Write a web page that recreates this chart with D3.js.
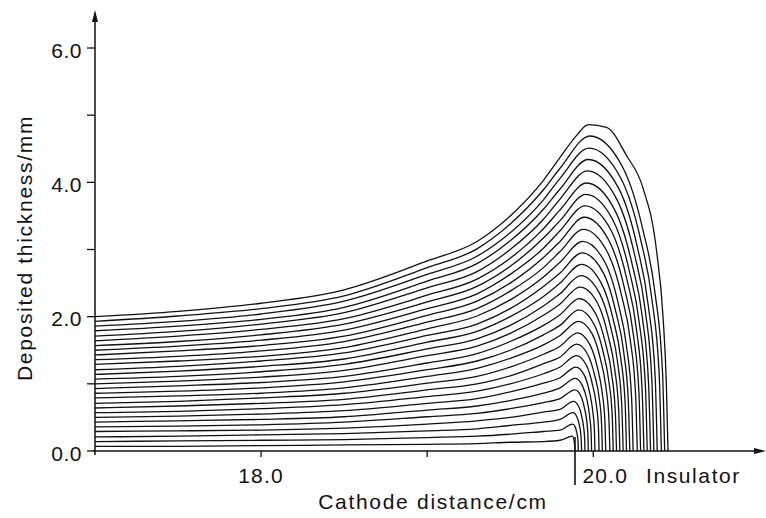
<!DOCTYPE html>
<html>
<head>
<meta charset="utf-8">
<script src="https://cdn.jsdelivr.net/npm/d3@7"></script>
<style>
  body { margin: 0; background: #fff; }
  text { font-family: "Liberation Sans", Arial, sans-serif; fill: #111; }
</style>
</head>
<body>
<div id="chart"></div>
<script>
// thickness profiles (mm) along the cathode, sampled at xGrid (cm)
const xGrid = [17.0, 17.5, 18.0, 18.5, 19.0, 19.3, 19.5, 19.7, 19.8];
const cathodeProfiles = [
  [0.07, 0.07, 0.08, 0.09, 0.10, 0.11, 0.13, 0.14, 0.16],
  [0.14, 0.15, 0.16, 0.17, 0.20, 0.22, 0.25, 0.29, 0.31],
  [0.21, 0.22, 0.24, 0.26, 0.30, 0.33, 0.38, 0.43, 0.47],
  [0.29, 0.30, 0.31, 0.34, 0.40, 0.45, 0.50, 0.58, 0.62],
  [0.36, 0.37, 0.39, 0.43, 0.51, 0.56, 0.63, 0.72, 0.78],
  [0.43, 0.45, 0.47, 0.51, 0.61, 0.67, 0.75, 0.86, 0.94],
  [0.50, 0.52, 0.55, 0.60, 0.71, 0.78, 0.88, 1.01, 1.09],
  [0.57, 0.59, 0.63, 0.69, 0.81, 0.89, 1.00, 1.15, 1.25],
  [0.64, 0.67, 0.71, 0.77, 0.91, 1.00, 1.12, 1.30, 1.40],
  [0.71, 0.74, 0.79, 0.86, 1.01, 1.11, 1.25, 1.44, 1.56],
  [0.79, 0.82, 0.86, 0.94, 1.11, 1.23, 1.38, 1.58, 1.72],
  [0.86, 0.89, 0.94, 1.03, 1.21, 1.34, 1.50, 1.73, 1.87],
  [0.93, 0.97, 1.02, 1.11, 1.31, 1.45, 1.63, 1.87, 2.03],
  [1.00, 1.04, 1.10, 1.20, 1.42, 1.56, 1.75, 2.02, 2.19],
  [1.07, 1.11, 1.18, 1.29, 1.52, 1.67, 1.87, 2.16, 2.34],
  [1.14, 1.19, 1.26, 1.37, 1.62, 1.78, 2.00, 2.30, 2.50],
  [1.21, 1.26, 1.34, 1.46, 1.72, 1.89, 2.12, 2.45, 2.65],
  [1.29, 1.34, 1.41, 1.54, 1.82, 2.01, 2.25, 2.59, 2.81],
  [1.36, 1.41, 1.49, 1.63, 1.92, 2.12, 2.38, 2.73, 2.97],
  [1.43, 1.49, 1.57, 1.71, 2.02, 2.23, 2.50, 2.88, 3.12],
  [1.50, 1.56, 1.65, 1.80, 2.12, 2.34, 2.63, 3.02, 3.28],
  [1.57, 1.63, 1.73, 1.89, 2.22, 2.45, 2.75, 3.17, 3.43],
  [1.64, 1.71, 1.81, 1.97, 2.32, 2.56, 2.87, 3.31, 3.59],
  [1.71, 1.78, 1.89, 2.06, 2.43, 2.67, 3.00, 3.45, 3.75],
  [1.79, 1.86, 1.96, 2.14, 2.53, 2.79, 3.13, 3.60, 3.90],
  [1.86, 1.93, 2.04, 2.23, 2.63, 2.90, 3.25, 3.74, 4.06],
  [1.93, 2.01, 2.12, 2.31, 2.73, 3.01, 3.38, 3.89, 4.21],
  [2.00, 2.08, 2.20, 2.40, 2.83, 3.12, 3.50, 4.03, 4.37]
];
// crest at the cathode edge and overgrowth onto the insulator, [cm, mm]
const edgeProfiles = [
  [[19.875, 0.22], [19.886, 0.13], [19.89, 0]],
  [[19.876, 0.40], [19.891, 0.36], [19.90, 0.28], [19.906, 0.20], [19.909, 0.10], [19.91, 0]],
  [[19.878, 0.57], [19.901, 0.51], [19.915, 0.40], [19.923, 0.29], [19.928, 0.14], [19.93, 0]],
  [[19.88, 0.74], [19.911, 0.67], [19.93, 0.52], [19.941, 0.37], [19.948, 0.19], [19.95, 0]],
  [[19.89, 0.91], [19.925, 0.82], [19.947, 0.64], [19.96, 0.46], [19.968, 0.23], [19.97, 0]],
  [[19.892, 1.08], [19.935, 0.97], [19.962, 0.76], [19.977, 0.54], [19.987, 0.27], [19.99, 0]],
  [[19.895, 1.25], [19.946, 1.13], [19.977, 0.88], [19.995, 0.63], [20.007, 0.31], [20.01, 0]],
  [[19.898, 1.42], [19.958, 1.28], [19.995, 0.99], [20.017, 0.71], [20.031, 0.36], [20.035, 0]],
  [[19.90, 1.59], [19.968, 1.43], [20.01, 1.11], [20.035, 0.80], [20.05, 0.40], [20.055, 0]],
  [[19.905, 1.76], [19.98, 1.58], [20.026, 1.23], [20.053, 0.88], [20.07, 0.44], [20.075, 0]],
  [[19.91, 1.93], [19.994, 1.74], [20.045, 1.35], [20.075, 0.97], [20.094, 0.48], [20.10, 0]],
  [[19.913, 2.10], [20.004, 1.89], [20.06, 1.47], [20.093, 1.05], [20.114, 0.53], [20.12, 0]],
  [[19.916, 2.27], [20.015, 2.04], [20.075, 1.59], [20.111, 1.14], [20.133, 0.57], [20.14, 0]],
  [[19.92, 2.44], [20.026, 2.20], [20.09, 1.71], [20.129, 1.22], [20.153, 0.61], [20.16, 0]],
  [[19.924, 2.61], [20.037, 2.35], [20.106, 1.83], [20.147, 1.31], [20.172, 0.65], [20.18, 0]],
  [[19.928, 2.78], [20.048, 2.50], [20.121, 1.95], [20.165, 1.39], [20.192, 0.70], [20.20, 0]],
  [[19.932, 2.95], [20.059, 2.66], [20.136, 2.07], [20.183, 1.48], [20.211, 0.74], [20.22, 0]],
  [[19.936, 3.12], [20.07, 2.81], [20.152, 2.18], [20.20, 1.56], [20.231, 0.78], [20.24, 0]],
  [[19.94, 3.30], [20.083, 2.97], [20.171, 2.31], [20.223, 1.65], [20.255, 0.83], [20.265, 0]],
  [[19.945, 3.48], [20.095, 3.13], [20.186, 2.44], [20.241, 1.74], [20.275, 0.87], [20.285, 0]],
  [[19.95, 3.65], [20.106, 3.29], [20.202, 2.56], [20.259, 1.83], [20.294, 0.91], [20.305, 0]],
  [[19.955, 3.82], [20.118, 3.44], [20.218, 2.67], [20.277, 1.91], [20.314, 0.96], [20.325, 0]],
  [[19.96, 3.99], [20.129, 3.59], [20.233, 2.79], [20.295, 2.00], [20.333, 1.00], [20.345, 0]],
  [[19.965, 4.17], [20.141, 3.75], [20.249, 2.92], [20.313, 2.09], [20.353, 1.04], [20.365, 0]],
  [[19.97, 4.34], [20.153, 3.91], [20.265, 3.04], [20.331, 2.17], [20.373, 1.09], [20.385, 0]],
  [[19.975, 4.51], [20.166, 4.06], [20.284, 3.16], [20.353, 2.26], [20.397, 1.13], [20.41, 0]],
  [[19.98, 4.69], [20.178, 4.22], [20.30, 3.28], [20.372, 2.35], [20.417, 1.17], [20.43, 0]],
  [[19.9, 4.70], [19.97, 4.86], [20.08, 4.82], [20.2, 4.40], [20.3, 3.91], [20.38, 3.0], [20.42, 2.0], [20.44, 1.0], [20.45, 0]]
];
const yMajorTicks = [0, 2, 4, 6];
const yMinorTicks = [1, 3, 5];
const xMajorTicks = [18, 20];
const xMinorTicks = [19];
const cathodeEdge = 19.89;

const width = 766, height = 518;

const svg = d3.select("#chart").append("svg")
  .attr("width", width)
  .attr("height", height);

const x = d3.scaleLinear().domain([17, 21.04]).range([95, 766]);
const y = d3.scaleLinear().domain([0, 6]).range([451, 48]);

// build each curve: cathode samples followed by the edge crest
const curves = cathodeProfiles.map((vals, i) =>
  xGrid.map((gx, j) => [gx, vals[j]]).concat(edgeProfiles[i]));

const line = d3.line()
  .x(d => x(d[0]))
  .y(d => y(d[1]))
  .curve(d3.curveMonotoneX);

svg.append("g")
  .selectAll("path")
  .data(curves)
  .enter().append("path")
  .attr("d", line)
  .attr("fill", "none")
  .attr("stroke", "#111")
  .attr("stroke-width", 1.3);

// axes
const axisColor = "#111";
const x0 = x(17), y0 = y(0);

svg.append("line")
  .attr("x1", x0).attr("y1", y0 + 4)
  .attr("x2", x0).attr("y2", 14)
  .attr("stroke", axisColor).attr("stroke-width", 1.5);
svg.append("path")
  .attr("d", `M${x0 - 3},${22} L${x0},${10} L${x0 + 3},${22} Z`)
  .attr("fill", axisColor);

svg.append("line")
  .attr("x1", x0 - 2).attr("y1", y0)
  .attr("x2", 762).attr("y2", y0)
  .attr("stroke", axisColor).attr("stroke-width", 1.5);
svg.append("path")
  .attr("d", `M${754},${y0 - 3} L${766},${y0} L${754},${y0 + 3} Z`)
  .attr("fill", axisColor);

// y ticks
svg.selectAll(".ytick")
  .data(yMajorTicks.concat(yMinorTicks))
  .enter().append("line")
  .attr("x1", x0 - 8).attr("x2", x0)
  .attr("y1", d => y(d)).attr("y2", d => y(d))
  .attr("stroke", axisColor).attr("stroke-width", 1.3);

svg.selectAll(".ylabel")
  .data(yMajorTicks)
  .enter().append("text")
  .attr("x", x0 - 13)
  .attr("y", d => y(d) + 2)
  .attr("dy", "0.36em")
  .attr("text-anchor", "end")
  .style("font-size", "21px")
  .style("letter-spacing", "0.5px")
  .text(d => d.toFixed(1));

// x ticks
svg.selectAll(".xtick")
  .data(xMajorTicks.concat(xMinorTicks))
  .enter().append("line")
  .attr("x1", d => x(d)).attr("x2", d => x(d))
  .attr("y1", y0).attr("y2", y0 + 6)
  .attr("stroke", axisColor).attr("stroke-width", 1.3);

svg.append("text")
  .attr("x", x(18)).attr("y", 483)
  .attr("text-anchor", "middle")
  .style("font-size", "21px")
  .style("letter-spacing", "1.2px")
  .text("18.0");

svg.append("text")
  .attr("x", x(20) + 12).attr("y", 483)
  .attr("text-anchor", "middle")
  .style("font-size", "21px")
  .style("letter-spacing", "1.2px")
  .text("20.0");

svg.append("text")
  .attr("x", 646).attr("y", 483)
  .style("font-size", "21px")
  .style("letter-spacing", "1.6px")
  .text("Insulator");

// cathode edge marker
svg.append("line")
  .attr("x1", x(cathodeEdge)).attr("x2", x(cathodeEdge))
  .attr("y1", y0 - 14).attr("y2", y0 + 34)
  .attr("stroke", axisColor).attr("stroke-width", 1.6);

// axis titles
svg.append("text")
  .attr("x", 433).attr("y", 509)
  .attr("text-anchor", "middle")
  .style("font-size", "21px")
  .style("letter-spacing", "1.7px")
  .text("Cathode distance/cm");

svg.append("text")
  .attr("transform", `translate(32,248) rotate(-90)`)
  .attr("text-anchor", "middle")
  .style("font-size", "21px")
  .style("letter-spacing", "1.7px")
  .text("Deposited thickness/mm");
</script>
</body>
</html>
